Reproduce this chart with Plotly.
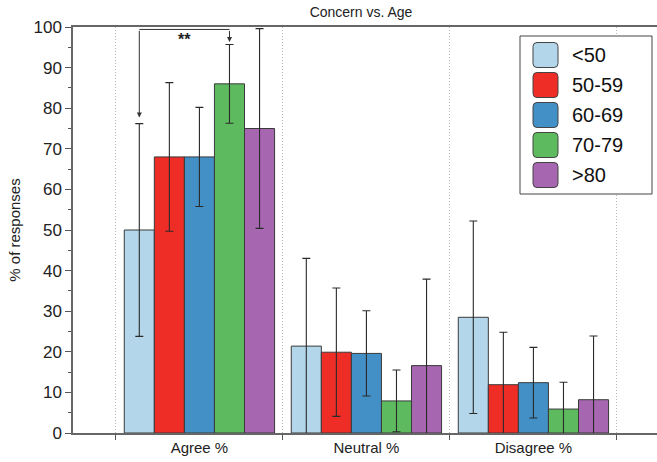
import plotly.graph_objects as go

categories = ["Agree %", "Neutral %", "Disagree %"]
groups = ["<50", "50-59", "60-69", "70-79", ">80"]
colors = ["#b3d6ea", "#ee2d26", "#4390c6", "#5dba5e", "#a666b0"]
values = {
    "<50":   [50.0, 21.4, 28.5],
    "50-59": [68.0, 19.9, 11.9],
    "60-69": [68.0, 19.6, 12.4],
    "70-79": [86.0, 7.9, 5.9],
    ">80":   [75.0, 16.6, 8.2],
}
errors = {
    "<50":   [26.2, 21.6, 23.7],
    "50-59": [18.3, 15.8, 12.9],
    "60-69": [12.2, 10.5, 8.7],
    "70-79": [9.7, 7.6, 6.6],
    ">80":   [24.6, 21.3, 15.7],
}
y_ticks = list(range(0, 101, 10))

W, H = 657, 462
ML, MR, MT, MB = 73, 0, 27, 29
BARGAP = 0.1

fig = go.Figure()
for g, c in zip(groups, colors):
    fig.add_trace(go.Bar(
        x=categories, y=values[g], name=g,
        marker=dict(color=c, line=dict(color="#3a3a3a", width=1)),
        error_y=dict(type="data", array=errors[g], visible=True,
                     color="#2a2a2a", thickness=1.1, width=4),
        showlegend=False,
    ))

# significance bracket between <50 and 70-79 in Agree %
n = len(groups)
bw = (1 - BARGAP) / n
def center(i_cat, i_grp):
    return i_cat - (1 - BARGAP) / 2 + bw * (i_grp + 0.5)

x1 = center(0, 0)
x2 = center(0, 3)
ytop = 99.4
shapes = [dict(type="line", xref="x", yref="y", x0=x1, x1=x2, y0=ytop, y1=ytop,
               line=dict(color="#333", width=1))]
annotations = []
for xx, yend in [(x1, values["<50"][0] + errors["<50"][0] + 1.5),
                 (x2, values["70-79"][0] + errors["70-79"][0] + 0.6)]:
    annotations.append(dict(x=xx, y=yend, ax=xx, ay=ytop, xref="x", yref="y",
                            axref="x", ayref="y", showarrow=True, arrowhead=2,
                            arrowsize=1, arrowwidth=1, arrowcolor="#333", text=""))
annotations.append(dict(x=(x1 + x2) / 2, y=97.0, xref="x", yref="y", text="<b>**</b>",
                        showarrow=False, font=dict(size=16, color="#222")))

# manual legend (pixel -> paper conversion)
pw = W - ML - MR
ph = H - MT - MB
def px(x):
    return (x - ML) / pw
def py(y):
    return (H - MB - y) / ph

shapes.append(dict(type="rect", xref="paper", yref="paper",
                   x0=px(520), x1=px(652), y0=py(36), y1=py(194),
                   line=dict(color="#444", width=1), fillcolor="white", layer="above"))
for i, (g, c) in enumerate(zip(groups, colors)):
    cy = 55 + 30 * i
    xa, xb, ya, yb = 533, 558, cy - 12.5, cy + 12.5
    r = 4
    path = (f"M{px(xa + r)},{py(ya)} L{px(xb - r)},{py(ya)} Q{px(xb)},{py(ya)} {px(xb)},{py(ya + r)} "
            f"L{px(xb)},{py(yb - r)} Q{px(xb)},{py(yb)} {px(xb - r)},{py(yb)} "
            f"L{px(xa + r)},{py(yb)} Q{px(xa)},{py(yb)} {px(xa)},{py(yb - r)} "
            f"L{px(xa)},{py(ya + r)} Q{px(xa)},{py(ya)} {px(xa + r)},{py(ya)} Z")
    shapes.append(dict(type="path", xref="paper", yref="paper", path=path,
                       fillcolor=c, line=dict(color="#444", width=1), layer="above"))
    annotations.append(dict(x=px(570), y=py(cy), xref="paper", yref="paper", text=g,
                            showarrow=False, xanchor="left", yanchor="middle",
                            font=dict(size=20, color="#111")))

fig.update_layout(
    width=W, height=H,
    margin=dict(l=ML, r=MR, t=MT, b=MB, pad=0),
    paper_bgcolor="white", plot_bgcolor="white",
    font=dict(family="Liberation Sans, Arial, sans-serif", color="#222"),
    barmode="group", bargap=BARGAP, bargroupgap=0,
    title=dict(text="Concern vs. Age", x=361 / W, xanchor="center",
               y=1 - 12 / H, yanchor="middle", yref="container",
               font=dict(size=14, color="#222")),
    xaxis=dict(type="category", range=[-0.757, 2.74], tickson="boundaries",
               ticks="outside", ticklen=5, tickcolor="#555",
               showline=True, linecolor="#666", linewidth=1.5, mirror=True,
               showgrid=True, gridcolor="#b8b8b8", griddash="1px,2px", gridwidth=1,
               tickfont=dict(size=15, color="#222")),
    yaxis=dict(range=[0, 100], tickvals=y_ticks, ticks="outside", ticklen=6,
               tickcolor="#555", showline=True, linecolor="#666", linewidth=1.5,
               showgrid=False, zeroline=False,
               minor=dict(dtick=5, ticks="outside", ticklen=3, tickcolor="#555"),
               tickfont=dict(size=17, color="#222"),
               title=dict(text="% of responses", font=dict(size=15, color="#222"), standoff=9)),
    shapes=shapes,
    annotations=annotations,
)

fig.write_html("out.html")
